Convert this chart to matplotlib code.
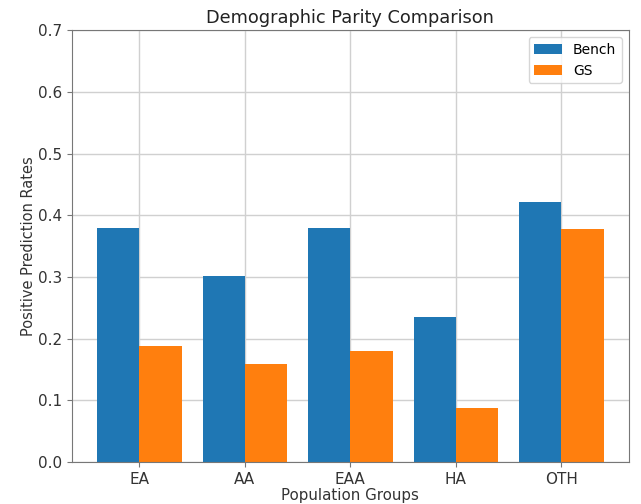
import numpy as np
import matplotlib
matplotlib.use("Agg")
import matplotlib.pyplot as plt

groups = ["EA", "AA", "EAA", "HA", "OTH"]
bench = [0.38, 0.301, 0.38, 0.235, 0.421]
gs = [0.189, 0.159, 0.18, 0.088, 0.378]

fig = plt.figure(figsize=[6.41, 5.04], dpi=100)
ax = fig.add_axes([0.112, 0.083, 0.869, 0.857])

x = np.arange(len(groups))
w = 0.4
ax.bar(x - w / 2, bench, w, color="#1f77b4", label="Bench")
ax.bar(x + w / 2, gs, w, color="#ff7f0e", label="GS")

ax.set_ylim(0, 0.7)
ax.set_xticks(x)
ax.set_xticklabels(groups)
ax.set_axisbelow(True)
ax.grid(color="#d0d0d0", lw=1)
for s in ax.spines.values():
    s.set_color("#777777")

ax.set_title("Demographic Parity Comparison", fontsize=12.8, pad=5, color="#222222")
ax.set_xlabel("Population Groups", fontsize=10.8, labelpad=1, color="#333333")
ax.set_ylabel("Positive Prediction Rates", fontsize=10.5, labelpad=1, color="#333333")
ax.tick_params(labelsize=11, labelcolor="#333333", color="#777777")
ax.legend(loc="upper right", fontsize=10)

fig.savefig("out.png", dpi=100)
